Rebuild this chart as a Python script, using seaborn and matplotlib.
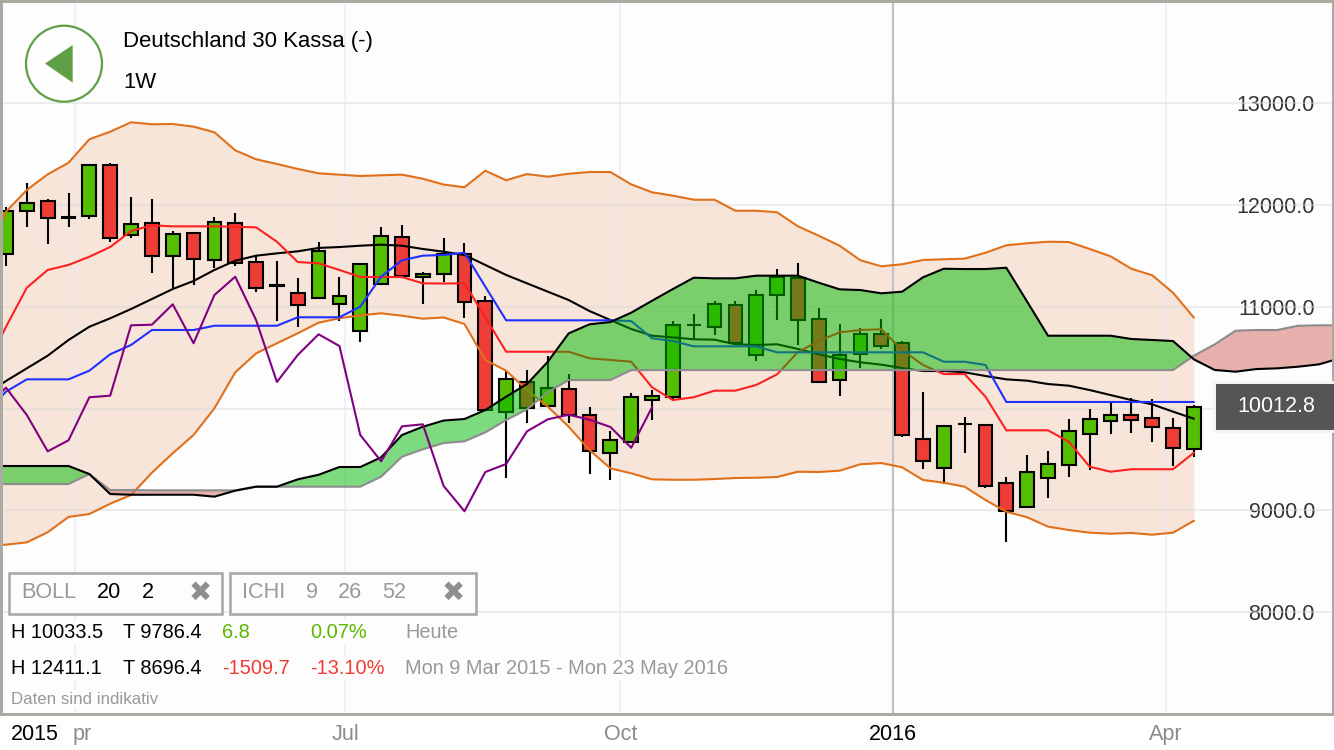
import numpy as np
import matplotlib
matplotlib.use("Agg")
import matplotlib.pyplot as plt
from matplotlib.patches import Rectangle, Circle, Polygon
import seaborn as sns

opens = [11519,11935,12033,11870,11888,12389,11702,11820,11493,11719,11457,11820,11434,11210,11136,11081,11025,10760,11224,11685,
         11287,11319,11516,11052,9969,10263,10025,10194,9939,9566,9671,10080,10110,10815,10800,11012,10528,11113,11283,10881,
         10283,10535,10728,10640,9698,9419,9850,9835,9272,9031,9318,9446,9747,9874,9933,9904,9809,9606]
highs = [11974,12215,12055,12117,12395,12405,12078,12052,11744,11725,11882,11921,11506,11447,11280,11630,11287,11425,11783,11797,
         11336,11670,11621,11107,10378,10378,10518,10335,10012,9779,10149,10181,10858,10924,11055,11055,11160,11366,11430,10989,
         10826,10793,10875,10665,10159,9830,9920,9840,9331,9547,9580,9894,9992,10051,10106,10093,9904,10031]
lows = [11401,11783,11617,11783,11862,11633,11673,11326,11179,11212,11375,11401,11146,10861,10797,11070,10861,10655,11215,11290,
        11025,11244,10891,9980,9315,9861,10015,9861,9360,9299,9660,9887,10083,10679,10721,10625,10469,10868,10623,10247,
        10123,10397,10581,9723,9409,9256,9561,9225,8693,9020,9122,9331,9397,9747,9757,9674,9439,9521]
closes = [11937,12019,11869,11880,12389,11673,11807,11499,11709,11470,11833,11424,11185,11200,11015,11548,11107,11418,11692,11300,
          11322,11513,11048,9985,10289,10002,10204,9936,9580,9688,10110,10126,10816,10822,11022,10640,11113,11293,10868,10260,
          10525,10728,10613,9740,9482,9825,9845,9240,8992,9377,9456,9776,9894,9939,9890,9819,9615,10012]

# the series below begin one week left of the picture
boll_upper = [11437,11931,12144,12297,12411,12641,12715,12808,12788,12791,12765,12710,12533,12445,12399,12350,12307,12294,12281,12288,
              12294,12254,12197,12170,12333,12239,12300,12274,12303,12320,12320,12199,12121,12088,12048,12048,11940,11940,11925,11787,
              11695,11597,11454,11395,11415,11457,11464,11470,11528,11601,11621,11636,11633,11565,11493,11371,11307,11136,10891]
boll_lower = [8651,8664,8687,8786,8936,8965,9066,9151,9370,9561,9740,10002,10355,10541,10640,10738,10842,10885,10914,10934,
              10910,10881,10893,10829,10476,10371,10181,10018,9821,9593,9413,9364,9305,9301,9301,9308,9318,9321,9328,9380,
              9377,9390,9453,9465,9423,9299,9272,9233,9102,8988,8933,8841,8808,8782,8772,8779,8762,8782,8899]
boll_mid = [10132,10270,10394,10518,10672,10802,10885,10976,11074,11172,11251,11359,11450,11499,11522,11542,11575,11584,11597,11607,
            11597,11565,11538,11506,11408,11310,11228,11146,11064,10956,10868,10780,10714,10698,10679,10675,10630,10623,10630,10584,
            10532,10486,10453,10430,10397,10368,10368,10355,10319,10286,10273,10240,10224,10181,10132,10083,10041,9969,9900]
tenkan = [10378,10802,11185,11359,11408,11489,11584,11741,11797,11787,11787,11787,11783,11777,11636,11437,11424,11359,11290,11290,
          11290,11228,11226,11228,10895,10557,10557,10557,10557,10492,10476,10459,10208,10083,10110,10175,10175,10231,10335,10554,
          10662,10747,10770,10777,10574,10427,10338,10338,10116,9786,9786,9786,9674,9429,9380,9404,9404,9404,9566]
kijun = [9946,10165,10286,10286,10286,10371,10532,10623,10770,10770,10770,10812,10812,10812,10812,10895,10895,10895,10999,11293,
         11454,11499,11506,11528,11195,10865,10865,10865,10865,10865,10865,10858,10689,10662,10610,10610,10610,10610,10551,10551,
         10551,10551,10551,10551,10551,10551,10459,10459,10427,10064,10064,10064,10064,10064,10064,10064,10064,10064,10064]
# the cloud runs on past the last candle, to week 64
senkou_a = [9436,9436,9436,9436,9436,9357,9161,9154,9154,9154,9154,9135,9194,9233,9233,9305,9350,9426,9426,9521,
            9740,9821,9882,9897,9985,10116,10240,10459,10737,10826,10848,10940,11057,11172,11283,11277,11277,11303,11303,11303,
            11234,11169,11162,11130,11146,11287,11371,11368,11368,11381,11048,10714,10714,10714,10714,10682,10672,10662,10482,
            10378,10361,10387,10394,10410,10433,10492]
senkou_b = [9259,9259,9259,9259,9259,9357,9200,9200,9197,9197,9197,9197,9197,9233,9233,9233,9233,9233,9233,9331,
            9527,9600,9661,9678,9766,9887,9992,10162,10279,10279,10279,10377,10377,10377,10377,10377,10377,10377,10377,10377,
            10377,10377,10377,10377,10377,10377,10377,10377,10377,10377,10377,10377,10377,10377,10377,10377,10377,10377,10518,
            10629,10763,10770,10770,10812,10816,10816]

grid_prices = [8000, 9000, 10000, 11000, 12000, 13000]
price_ticks = [8000, 9000, 11000, 12000, 13000]
price_labels = ["8000.0", "9000.0", "11000.0", "12000.0", "13000.0"]
grid_weeks = [3.29, 16.27, 29.48, 55.64]
year_week = 42.58
axis_weeks = [1.39, 3.65, 16.27, 29.48, 42.58, 55.64]
axis_labels = ["2015", "pr", "Jul", "Oct", "2016", "Apr"]

W, H = 1334, 750
sns.set_theme(style="white")
plt.rcParams["font.family"] = ["Liberation Sans", "DejaVu Sans"]
BG = "#fdfdfd"
fig = plt.figure(figsize=(W / 100, H / 100), dpi=100, facecolor="white")
ax = fig.add_axes([0, 0, 1, 1], facecolor=BG)
ax.set_xlim(-6 / 20.84, (W - 6) / 20.84)
ax.set_ylim(14007.4 - 9.81 * H, 14007.4)
for s in ax.spines.values():
    s.set_visible(False)

weeks = np.arange(len(closes))
wk = np.arange(-1, len(closes))
cloud_wk = np.arange(-1, len(senkou_a) - 1)
a = np.array(senkou_a, float)
b = np.array(senkou_b, float)

bottom_frac = (H - 713) / H
ax.add_patch(Rectangle((0, 0), 1, bottom_frac, transform=ax.transAxes, fc="white", ec="none", zorder=0.5))

# bollinger band
ax.fill_between(wk, boll_lower, boll_upper, color="#f7e5da", lw=0, zorder=1)

# grid
for p in grid_prices:
    ax.axhline(p, color="#d8d8d8", alpha=0.45, lw=1.5, zorder=2)
for g in grid_weeks:
    ax.axvline(g, ymin=bottom_frac, color="#e4e6f6", alpha=0.55, lw=1.4, zorder=2)
ax.axvline(year_week, ymin=bottom_frac, color="#c2c2c2", lw=1.6, zorder=2)

# candles
up = np.array(closes) >= np.array(opens)
body_low = np.minimum(opens, closes)
body_h = np.abs(np.array(closes) - np.array(opens))
ax.vlines(weeks, lows, highs, color="black", lw=1.5, zorder=3)
ax.bar(weeks, body_h, bottom=body_low, width=0.66,
       color=["#55be00" if u else "#ee3d36" for u in up],
       edgecolor="black", linewidth=1.5, zorder=3.2)


def line(x, y, color, lw=1.5, z=4):
    sns.lineplot(x=x, y=y, color=color, linewidth=lw, ax=ax, estimator=None, sort=False,
                 legend=False, zorder=z)


line(wk, boll_upper, "#e0701a")
line(wk, boll_lower, "#e0701a")
line(wk, boll_mid, "#000000")
line(wk, tenkan, "#ff2020")
line(wk, kijun, "#2030ff")

# cloud
ax.fill_between(cloud_wk, a, b, where=a >= b, interpolate=True, color=(0, 185 / 255, 0), alpha=0.5, lw=0, zorder=5)
ax.fill_between(cloud_wk, a, b, where=a <= b, interpolate=True, color=(209 / 255, 101 / 255, 95 / 255), alpha=0.5, lw=0, zorder=5)
line(cloud_wk, senkou_b, "#8c8c8c", z=6)
line(cloud_wk, senkou_a, "#000000", z=6.5)

# lagging span: the closes shifted back by 26 weeks
line(np.arange(-1, len(closes) - 26), closes[25:], "#800080", z=7)

# axes text
ax.yaxis.tick_right()
ax.set_yticks(price_ticks, price_labels)
ax.tick_params(axis="y", length=0, pad=-13.7, labelsize=15.5, labelcolor="#333333")
for t in ax.get_yticklabels():
    t.set_ha("right")
    t.set_bbox(dict(fc=BG, ec="none", pad=0.5))
ax.set_xticks(axis_weeks, axis_labels)
ax.tick_params(axis="x", length=0, pad=-11.5, labelsize=15.5, labelcolor="#8a8a8a")
for t, lab in zip(ax.get_xticklabels(), axis_labels):
    t.set_va("center")
    t.set_zorder(9)
    if lab in ("2015", "2016"):
        t.set_color("black")
        t.set_bbox(dict(fc="#fcfcfc", ec="none", pad=2))
ax.set_xlabel("")
ax.set_ylabel("")

# interface overlay in pixels
ui = fig.add_axes([0, 0, 1, 1], facecolor="none")
ui.set_xlim(0, W)
ui.set_ylim(H, 0)
ui.axis("off")

FRAME = "#aaaaa2"
ui.add_patch(Rectangle((0, 0), W, 2.5, fc=FRAME, ec="none"))
ui.add_patch(Rectangle((0, 0), 2.5, 716, fc=FRAME, ec="none"))
ui.add_patch(Rectangle((W - 2, 0), 2, 716, fc=FRAME, ec="none"))
ui.add_patch(Rectangle((0, 712.5), W, 3.5, fc=FRAME, ec="none"))

# back button
ui.add_patch(Circle((64, 63.7), 38, fc="#fefefe", ec="#5f9f45", lw=1.6))
ui.add_patch(Polygon([(45, 63.5), (72.7, 45), (72.7, 82.7)], closed=True, fc="#5f9f45", ec="none"))
ui.text(123, 42, "Deutschland 30 Kassa (-)", fontsize=15.9, color="black", va="center", ha="left")
ui.text(123, 82, "1W", fontsize=15.9, color="black", va="center", ha="left")

# current price
ui.add_patch(Rectangle((1213, 381), 121, 52, fc="#f5f5f0", ec="none"))
ui.add_patch(Rectangle((1216, 384), 118, 46, fc="#555555", ec="none"))
ui.text(1315, 407, "10012.8", fontsize=15.5, color="white", va="center", ha="right")

# indicator boxes
for x0, x1 in [(8.5, 222), (229.5, 476)]:
    ui.add_patch(Rectangle((x0, 573), x1 - x0, 41, fc=BG, ec="#a9a9a9", lw=1.9, zorder=3))
GREY = "#999999"
for x, s, c in [(21, "BOLL", GREY), (97, "20", "black"), (142, "2", "black"),
                (242, "ICHI", GREY), (306, "9", GREY), (338, "26", GREY), (382, "52", GREY)]:
    ui.text(x, 592, s, fontsize=15.6, color=c, va="center", ha="left", zorder=4)
for x in (200, 453):
    ui.text(x, 593, "\u2716", fontsize=20, color="#8f8f8f", va="center", ha="center",
            family="DejaVu Sans", zorder=4)

# statistics
box = dict(fc=BG, ec="none", pad=1.5)
GREEN, RED = "#5cb800", "#f03a33"
for y, cells in [(632.5, [(11, "H 10033.5", "black"), (123, "T 9786.4", "black"), (222, "6.8", GREEN),
                          (310, "0.07%", GREEN), (405, "Heute", GREY)]),
                 (668.5, [(11, "H 12411.1", "black"), (123, "T 8696.4", "black"), (222, "-1509.7", RED),
                          (310, "-13.10%", RED), (405, "Mon 9 Mar 2015 - Mon 23 May 2016", GREY)])]:
    for x, s, c in cells:
        ui.text(x, y, s, fontsize=14.4, color=c, va="center", ha="left", bbox=box)
ui.text(11, 699.5, "Daten sind indikativ", fontsize=12.2, color="#999999", va="center", ha="left", bbox=box)

fig.savefig("out.png", dpi=100, facecolor="white")
